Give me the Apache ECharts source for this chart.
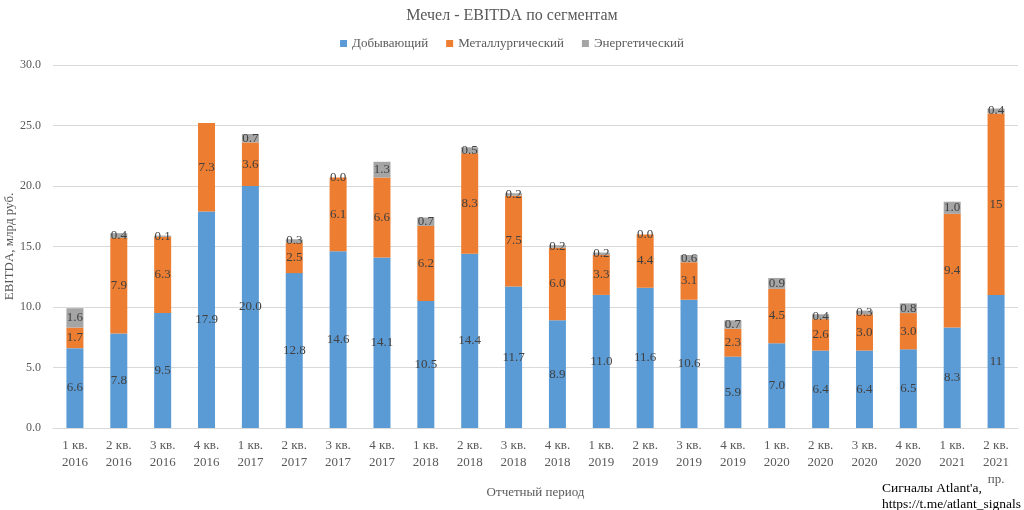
<!DOCTYPE html>
<html><head><meta charset="utf-8">
<script src="https://cdn.jsdelivr.net/npm/echarts@6/dist/echarts.min.js"></script>
<style>html,body{margin:0;padding:0;background:#fff}#c{width:1024px;height:510px}</style>
</head><body><div id="c"></div>
<script>
const categories = ["1 кв.\n2016","2 кв.\n2016","3 кв.\n2016","4 кв.\n2016","1 кв.\n2017","2 кв.\n2017","3 кв.\n2017","4 кв.\n2017","1 кв.\n2018","2 кв.\n2018","3 кв.\n2018","4 кв.\n2018","1 кв.\n2019","2 кв.\n2019","3 кв.\n2019","4 кв.\n2019","1 кв.\n2020","2 кв.\n2020","3 кв.\n2020","4 кв.\n2020","1 кв.\n2021","2 кв.\n2021\nпр."];
const mining = [6.6,7.8,9.5,17.9,20.0,12.8,14.6,14.1,10.5,14.4,11.7,8.9,11.0,11.6,10.6,5.9,7.0,6.4,6.4,6.5,8.3,11];
const metal = [1.7,7.9,6.3,7.3,3.6,2.5,6.1,6.6,6.2,8.3,7.5,6.0,3.3,4.4,3.1,2.3,4.5,2.6,3.0,3.0,9.4,15];
const energy = [1.6,0.4,0.1,-0.1,0.7,0.3,0.0,1.3,0.7,0.5,0.2,0.2,0.2,0.0,0.6,0.7,0.9,0.4,0.3,0.8,1.0,0.4];
const yTicks = [0,5,10,15,20,25,30];

const FONT = "Liberation Serif";
const chart = echarts.init(document.getElementById('c'));
function fmt(p){
  if (p.dataIndex === 21 && p.seriesIndex < 2) return String(p.value);
  return Number(p.value).toFixed(1);
}
const lbl = {show:true, position:'inside', color:'#404040', fontFamily:FONT, fontSize:13, formatter:fmt};
chart.setOption({
  animation:false,
  textStyle:{fontFamily:FONT},
  title:{text:'Мечел - EBITDA по сегментам', left:'center', top:3,
    textStyle:{fontFamily:FONT, fontSize:16, fontWeight:'normal', color:'#595959'}},
  legend:{top:32, left:'center', itemWidth:7, itemHeight:7, itemGap:18, icon:'rect',
    textStyle:{fontFamily:FONT, fontSize:13, color:'#595959'}},
  grid:{left:53, right:6, top:65, bottom:82, containLabel:false, outerBoundsMode:'none'},
  xAxis:{type:'category', data:categories,
    name:'Отчетный период', nameLocation:'middle', nameGap:58, nameMoveOverlap:false,
    nameTextStyle:{fontFamily:FONT, fontSize:13, color:'#595959'},
    axisLine:{lineStyle:{color:'#d9d9d9'}}, axisTick:{show:false},
    axisLabel:{interval:0, color:'#595959', fontFamily:FONT, fontSize:13, lineHeight:17, margin:9}},
  yAxis:{type:'value', min:yTicks[0], max:yTicks[yTicks.length-1], interval:5,
    name:'EBITDA, млрд руб.', nameLocation:'middle', nameGap:37, nameMoveOverlap:false,
    nameTextStyle:{fontFamily:FONT, fontSize:13, color:'#595959'},
    axisLine:{show:false}, axisTick:{show:false},
    axisLabel:{color:'#595959', fontFamily:FONT, fontSize:12, margin:12, formatter:v=>v.toFixed(1)},
    splitLine:{lineStyle:{color:'#d9d9d9'}}},
  series:[
    {name:'Добывающий', type:'bar', stack:'t', barWidth:17, data:mining, itemStyle:{color:'#5B9BD5'}, label:lbl},
    {name:'Металлургический', type:'bar', stack:'t', barWidth:17, data:metal, itemStyle:{color:'#ED7D31'}, label:lbl},
    {name:'Энергетический', type:'bar', stack:'t', barWidth:17,
      data:energy.map(v => v < 0 ? {value:v, label:{show:false}} : v),
      itemStyle:{color:'#A5A5A5'}, label:lbl}
  ],
  graphic:[{type:'text', left:882, top:480, style:{text:"Сигналы Atlant'a,\nhttps://t.me/atlant_signals",
    font:'13.5px "Liberation Serif"', fill:'#000', lineHeight:16}}]
});
</script></body></html>
